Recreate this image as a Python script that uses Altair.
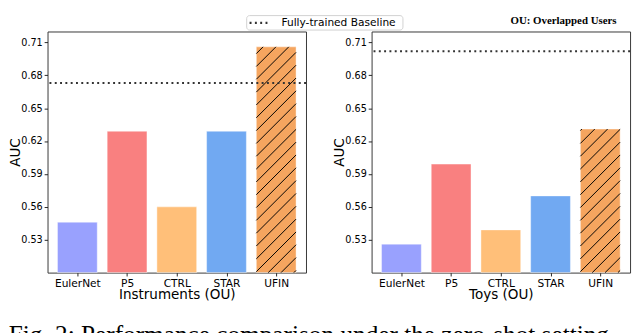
import json
import altair as alt
import pandas as pd

# ---------------- data ----------------
models = ["EulerNet", "P5", "CTRL", "STAR", "UFIN"]
bar_colors = ["#99a1fe", "#f98080", "#ffbf79", "#71a9f2", "#f5a55f"]
instruments_auc = [0.546, 0.629, 0.560, 0.629, 0.706]
toys_auc = [0.526, 0.599, 0.539, 0.570, 0.631]
instruments_baseline = 0.673
toys_baseline = 0.702
panel_titles = ["Instruments (OU)", "Toys (OU)"]
y_ticks = [0.53, 0.56, 0.59, 0.62, 0.65, 0.68, 0.71]
legend_label = "Fully-trained Baseline"
note_text = "OU: Overlapped Users"
caption_text = "Fig. 2: Performance comparison under the zero-shot setting"
hatched_model = "UFIN"

# ---------------- layout constants ----------------
W, H = 268, 250
X_DOM = [-0.6, 4.6]
Y_DOM = [0.50, 0.72]
BAR_W = 0.8
HATCH_STEP = 13.3  # pixel spacing of hatch lines (vertical)
FONT = "DejaVu Sans"
DOTS = [2, 3.5]

label_expr = json.dumps(models) + "[datum.value]"


def hatch_segments(pos, value):
    ku = W / (X_DOM[1] - X_DOM[0])
    kv = H / (Y_DOM[1] - Y_DOM[0])
    x0 = (pos - BAR_W / 2 - X_DOM[0]) * ku
    x1 = (pos + BAR_W / 2 - X_DOM[0]) * ku
    yt = (Y_DOM[1] - value) * kv
    yb = H
    rows = []
    k = int((x0 + yt) // HATCH_STEP)
    while k * HATCH_STEP < x1 + yb:
        c = k * HATCH_STEP
        xs = max(x0, c - yb)
        xe = min(x1, c - yt)
        if xe - xs > 0.5:
            rows.append({
                "hx": xs / ku + X_DOM[0], "hy": Y_DOM[1] - (c - xs) / kv,
                "hx2": xe / ku + X_DOM[0], "hy2": Y_DOM[1] - (c - xe) / kv,
            })
        k += 1
    return pd.DataFrame(rows)


def panel(values, baseline, xtitle, extras):
    df = pd.DataFrame({
        "model": models,
        "auc": values,
        "pos": list(range(len(models))),
        "color": bar_colors,
    })
    df["x0"] = df["pos"] - BAR_W / 2
    df["x1"] = df["pos"] + BAR_W / 2

    xscale = alt.Scale(domain=X_DOM, nice=False, zero=False)
    yscale = alt.Scale(domain=Y_DOM, nice=False, zero=False)

    xaxis = alt.Axis(values=list(range(len(models))), labelExpr=label_expr,
                     title=xtitle, grid=False, domain=False, tickSize=3.5,
                     tickColor="#222", labelFont=FONT, labelFontSize=11,
                     labelColor="black", labelPadding=1.5, titleFont=FONT,
                     titleFontSize=14, titleFontWeight="normal", titleColor="black",
                     titlePadding=0)
    yaxis = alt.Axis(values=y_ticks, format=".2f", title="AUC", grid=False,
                     domain=False, tickSize=3.5, tickColor="#222", labelFont=FONT,
                     labelFontSize=10, labelColor="black", labelPadding=2,
                     titleFont=FONT, titleFontSize=14, titleFontWeight="normal",
                     titleColor="black", titlePadding=-2)

    bars = alt.Chart(df).mark_rect(stroke="white", strokeWidth=0.6, strokeOpacity=0.7).encode(
        x=alt.X("x0:Q", scale=xscale, axis=xaxis),
        x2="x1:Q",
        y=alt.Y("auc:Q", scale=yscale, axis=yaxis),
        y2=alt.datum(Y_DOM[0]),
        color=alt.Color("color:N", scale=None, legend=None),
    )

    hpos = models.index(hatched_model)
    hdf = hatch_segments(hpos, values[hpos])
    hatch = alt.Chart(hdf).mark_rule(color="black", strokeWidth=1).encode(
        x=alt.X("hx:Q", scale=xscale), y=alt.Y("hy:Q", scale=yscale),
        x2="hx2:Q", y2="hy2:Q",
    )

    bdf = pd.DataFrame({"baseline": [baseline], "label": [legend_label]})
    rule = alt.Chart(bdf).mark_rule(color="#333", strokeWidth=2.2, strokeDash=DOTS).encode(
        y=alt.Y("baseline:Q", scale=yscale),
    )

    return alt.layer(bars, hatch, rule, *extras).properties(width=W, height=H)


# legend (drawn in the left panel, spanning toward the right panel)
leg_df = pd.DataFrame({"label": [legend_label]})
leg_box = alt.Chart(leg_df).mark_rect(fill="white", stroke="#d0d0d0", strokeWidth=1,
                                       cornerRadius=3).encode(
    x=alt.value(206.5), x2=alt.value(368.5), y=alt.value(-16.5), y2=alt.value(-1.5))
leg_line = alt.Chart(leg_df).mark_rule(color="#333", strokeWidth=2.2, strokeDash=DOTS).encode(
    x=alt.value(209.5), x2=alt.value(231.5), y=alt.value(-9))
leg_text = alt.Chart(leg_df).mark_text(align="left", baseline="middle", font=FONT,
                                       fontSize=11, color="black").encode(
    x=alt.value(242.5), y=alt.value(-9), text="label:N")

note_df = pd.DataFrame({"note": [note_text]})
note = alt.Chart(note_df).mark_text(align="center", baseline="middle",
                                    font="Liberation Serif", fontWeight="bold",
                                    fontSize=11.25, color="black").encode(
    x=alt.value(199), y=alt.value(-10.5), text="note:N")

left = panel(instruments_auc, instruments_baseline, panel_titles[0],
             [leg_box, leg_line, leg_text])
right = panel(toys_auc, toys_baseline, panel_titles[1], [note])

chart = alt.hconcat(
    left, right, spacing=68, bounds="flush",
    title=alt.Title(caption_text, orient="bottom", anchor="start",
                    font="Liberation Serif", fontSize=26.2, fontWeight="normal",
                    color="black", offset=21, dx=0),
).properties(
    padding=0,
    background="white",
).configure_view(
    stroke="#333", strokeWidth=1,
)

chart.save("out.html", embed_options={"renderer": "svg", "actions": False})
